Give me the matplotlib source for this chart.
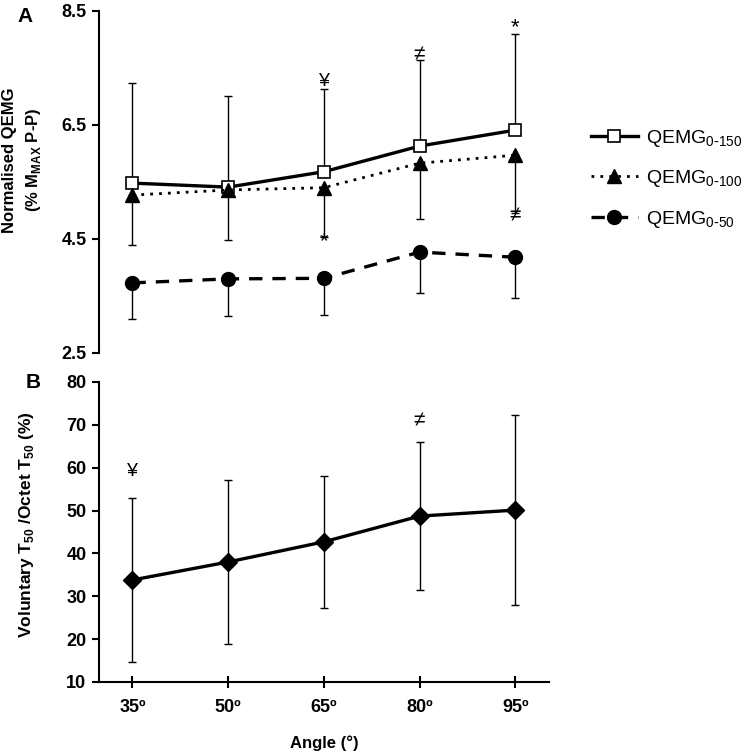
import matplotlib
matplotlib.use("Agg")
import matplotlib.pyplot as plt
import numpy as np

plt.rcParams['font.family'] = ['Liberation Sans', 'DejaVu Sans']

angles = ["35º", "50º", "65º", "80º", "95º"]

# panel A - normalised QEMG
qemg_150 = [5.48, 5.41, 5.68, 6.13, 6.41]
qemg_150_sd_up = [1.76, 1.60, 1.45, 1.51, 1.69]
qemg_100 = [5.27, 5.36, 5.40, 5.83, 5.97]
qemg_100_sd_down = [0.88, 0.88, 0.86, 0.98, 1.02]
qemg_50 = [3.73, 3.80, 3.81, 4.27, 4.18]
qemg_50_sd_down = [0.63, 0.65, 0.64, 0.72, 0.72]

# panel B - voluntary T50 / octet T50
t50_ratio = [33.8, 38.0, 42.7, 48.7, 50.1]
t50_sd = [19.2, 19.2, 15.4, 17.3, 22.2]

x = np.arange(len(angles))

fig = plt.figure(figsize=(7.51, 7.52), dpi=100)
axA = fig.add_axes([0.1318, 0.5306, 0.599, 0.4548])
axB = fig.add_axes([0.1318, 0.0931, 0.599, 0.399])

ebkw = dict(fmt="none", ecolor="black", elinewidth=1.0, capsize=3, capthick=1.0)

# error bars first so markers sit on top
axA.errorbar(x, qemg_150, yerr=[np.zeros(5), qemg_150_sd_up], **ebkw)
axA.errorbar(x, qemg_100, yerr=[qemg_100_sd_down, np.zeros(5)], **ebkw)
axA.errorbar(x, qemg_50, yerr=[qemg_50_sd_down, np.zeros(5)], **ebkw)

axA.plot(x, qemg_150, color="black", lw=2.4, ls="-", marker="s", ms=9,
         mfc="white", mec="black", mew=1.2, label="QEMG$_{\\mathregular{0\\text{-}150}}$")
axA.plot(x, qemg_100, color="black", lw=2.0, ls=(0, (1, 2.2)), marker="^", ms=10,
         mfc="black", mec="black", label="QEMG$_{\\mathregular{0\\text{-}100}}$")
axA.plot(x, qemg_50, color="black", lw=2.4, ls=(0, (4, 3)), marker="o", ms=10,
         mfc="black", mec="black", label="QEMG$_{\\mathregular{0\\text{-}50}}$")

axA.set_xlim(-0.35, 4.35)
axA.set_ylim(2.5, 8.5)
axA.set_yticks([2.5, 4.5, 6.5, 8.5])
axA.set_xticks([])
for s in ["top", "right", "bottom"]:
    axA.spines[s].set_visible(False)
axA.spines["left"].set_linewidth(1.5)
axA.tick_params(axis="y", direction="out", length=5, width=1.5, labelsize=13, pad=4)
for lab in axA.get_yticklabels():
    lab.set_fontweight("bold")
axA.set_ylabel("Normalised QEMG\n(% M$_{\\mathregular{MAX}}$ P-P)", fontsize=12,
               fontweight="bold", linespacing=1.45)
axA.yaxis.set_label_coords(-0.125, 0.565)

# significance markers panel A
axA.text(2, 7.27, "¥", ha="center", va="center", fontsize=14)
axA.text(3, 7.73, "≠", ha="center", va="center", fontsize=15)
axA.text(4, 8.20, "*", ha="center", va="center", fontsize=16)
axA.text(2, 4.45, "*", ha="center", va="center", fontsize=16)
axA.text(4, 4.90, "≠", ha="center", va="center", fontsize=15)

leg = axA.legend(loc="center left", bbox_to_anchor=(1.055, 0.51), frameon=False,
                 fontsize=14, handlelength=2.4, labelspacing=1.0, handletextpad=0.4)

# panel B
axB.errorbar(x, t50_ratio, yerr=t50_sd, **ebkw)
axB.plot(x, t50_ratio, color="black", lw=2.4, marker="D", ms=9, mfc="black", mec="black")
axB.set_xlim(-0.35, 4.35)
axB.set_ylim(10, 80)
axB.set_yticks(range(10, 81, 10))
axB.set_xticks(x)
axB.set_xticklabels(angles)
for s in ["top", "right"]:
    axB.spines[s].set_visible(False)
axB.spines["left"].set_linewidth(1.5)
axB.spines["bottom"].set_linewidth(1.5)
axB.tick_params(axis="y", direction="out", length=5, width=1.5, labelsize=13, pad=4)
axB.tick_params(axis="x", direction="inout", length=9, width=1.5, labelsize=13, pad=8)
for lab in axB.get_yticklabels() + axB.get_xticklabels():
    lab.set_fontweight("bold")
axB.set_ylabel("Voluntary T$_{\\mathregular{50}}$ /Octet T$_{\\mathregular{50}}$ (%)",
               fontsize=12.5, fontweight="bold")
axB.yaxis.set_label_coords(-0.14, 0.525)
axB.set_xlabel("Angle (°)", fontsize=12, fontweight="bold", labelpad=14)

axB.text(0, 59.0, "¥", ha="center", va="center", fontsize=14)
axB.text(3, 70.8, "≠", ha="center", va="center", fontsize=15)

fig.text(0.023, 0.978, "A", fontsize=15, fontweight="bold", va="center")
fig.text(0.034, 0.492, "B", fontsize=15, fontweight="bold", va="center")

fig.savefig("out.png", dpi=100)
